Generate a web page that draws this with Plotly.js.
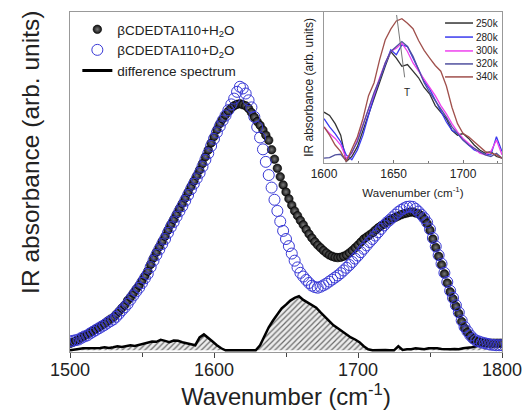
<!DOCTYPE html>
<html>
<head>
<meta charset="utf-8">
<script src="https://cdn.plot.ly/plotly-3.0.1.min.js"></script>
<style>html,body{margin:0;padding:0;background:#fff;}#chart{width:527px;height:418px;}</style>
</head>
<body>
<div id="chart"></div>
<script>
// Main spectra: sampled every 2 cm-1 from 1500 to 1800
const specStart = 1500, specStep = 2, specCount = 151;
const specWn = Array.from({length: specCount}, (_, i) => specStart + i * specStep);

const absH2O = [
2.0,2.4,2.8,3.2,3.8,4.3,4.7,5.2,5.8,6.3,
6.8,7.4,7.9,8.6,9.2,9.7,10.6,11.5,12.5,13.4,
14.7,15.7,16.9,18.1,19.2,20.6,22.0,23.4,25.4,27.3,
29.0,30.6,32.2,33.7,35.5,37.2,38.7,40.3,41.9,43.4,
45.0,46.7,48.4,50.0,51.6,53.3,55.2,57.2,59.2,61.3,
63.2,65.2,67.0,68.4,69.6,70.7,71.6,72.3,72.7,72.9,
72.6,72.3,71.5,70.3,68.9,67.6,66.5,65.1,63.6,62.1,
59.3,56.5,53.8,51.3,48.9,46.8,44.8,42.9,41.2,39.8,
38.4,37.1,35.7,34.4,33.2,32.1,31.1,30.3,29.5,28.8,
28.2,27.8,27.5,27.4,27.5,27.8,28.2,28.8,29.5,30.3,
31.1,32.0,32.9,33.5,34.1,34.7,35.5,36.2,36.8,37.3,
37.9,38.5,38.9,39.3,39.7,40.1,40.4,40.6,40.8,40.9,
40.6,40.4,39.8,38.8,37.5,35.5,32.9,30.4,27.8,25.3,
22.6,19.9,17.3,15.2,13.0,10.9,8.5,6.6,5.3,4.2,
3.3,2.8,2.5,2.3,2.2,2.1,2.1,2.1,2.1,2.1,
2.1];

const absD2O = [
2.6,2.8,3.0,3.2,3.7,4.1,4.4,5.0,5.5,6.0,
6.5,7.0,7.5,8.1,8.6,9.1,9.9,10.8,11.8,12.7,
13.7,15.0,16.2,17.4,18.5,19.9,21.3,22.6,24.6,26.5,
28.2,29.8,31.4,32.9,34.7,36.4,37.9,39.5,41.1,42.6,
44.2,45.9,47.6,49.2,50.8,52.4,54.3,56.3,58.2,60.4,
62.5,64.4,66.2,67.9,69.4,71.0,72.7,74.4,76.4,77.9,
77.4,75.9,73.9,71.8,69.0,66.0,62.9,59.4,55.7,51.8,
48.1,44.5,41.2,38.1,35.3,32.9,30.8,28.6,26.5,24.5,
22.9,21.8,20.8,19.9,19.1,18.7,18.5,18.8,19.2,19.7,
20.3,20.9,21.5,22.1,22.8,23.6,24.4,25.2,26.1,27.1,
28.0,29.0,30.0,31.0,32.0,32.9,33.9,34.9,35.9,36.9,
37.8,38.5,39.3,40.1,40.9,41.5,42.0,42.4,42.5,42.4,
41.8,41.0,40.1,39.1,37.8,35.8,33.2,30.7,28.1,25.6,
22.9,20.2,17.6,15.5,13.3,11.2,8.8,6.9,5.6,4.4,
3.5,2.9,2.6,2.3,2.1,1.9,1.7,1.6,1.5,1.5,
1.5];

// Difference spectrum: sampled every 3 cm-1
const diffStart = 1500, diffStep = 3, diffCount = 101;
const diffWn = Array.from({length: diffCount}, (_, i) => diffStart + i * diffStep);
const absDiff = [0,0.3,0.4,0.6,0.6,0.6,0.6,0.7,0.9,0.7,
0.9,1.2,1.0,1.3,1.5,1.3,1.6,1.8,2.1,2.6,
2.5,3.1,2.8,2.4,2.9,2.8,2.4,2.2,1.8,1.5,
3.8,4.7,3.5,2.6,1.5,0.6,0,0,0,0,
0,0,0,0,1.5,4.4,6.8,8.8,10.6,12.4,
13.5,14.7,15.5,16.0,14.9,14.1,13.2,12.6,11.2,10.0,
8.5,7.4,6.5,5.6,4.7,3.8,3.2,2.4,1.2,0.3,
0,0.1,0,0.1,0,0,1.2,0.1,0.3,0.3,
0.6,0.4,0.3,0.6,0.7,0.6,0.4,0.3,0.3,0.4,
0.3,0.6,0.7,0.9,1.2,1.5,1.5,1.8,1.8,2.1,
2.1];

// Inset: temperature series, every 4 cm-1 from 1600 to 1728
const insetWn = [1600,1604,1608,1612,1616,1620,1624,1628,1632,1636,1640,1644,1648,1652,1656,1660,1664,1668,1672,1676,1680,1684,1688,1692,1696,1700,1704,1708,1712,1716,1720,1724,1728];
const t250 = [33.0,30.8,25.3,17.6,0,3.3,9.9,20.9,31.9,41.8,52.7,63.7,73.6,69.2,63.7,64.8,60.4,56.0,49.5,45.1,37.4,33.0,28.6,20.9,17.6,18.7,15.4,11.0,7.7,5.5,6.6,3.3,2.2];
const t280 = [28.6,23.1,18.7,13.2,4.4,1.1,7.7,17.6,30.8,44.0,54.9,64.8,74.7,71.4,78.0,76.9,69.2,60.4,53.8,48.4,40.7,33.0,26.4,20.9,18.7,14.3,11.0,7.7,6.2,4.8,4.4,16.5,6.6];
const t300 = [23.1,18.7,15.4,11.0,2.2,5.5,14.3,24.2,35.2,45.1,56.0,65.9,73.6,75.8,79.1,73.6,65.9,60.4,54.9,49.5,44.0,37.4,31.9,25.3,19.8,15.4,12.1,8.8,5.5,4.4,6.6,14.3,4.4];
const t320 = [2.2,2.6,4.4,4.8,0.4,6.2,13.2,24.2,35.2,46.2,54.9,65.9,73.6,76.9,80.2,76.9,70.3,61.5,52.7,46.2,40.7,35.2,29.7,23.1,18.7,14.3,11.0,8.8,6.6,4.4,3.3,5.5,2.2];
const t340 = [23.1,17.6,11.0,6.6,0,7.7,16.5,28.6,44.0,52.7,68.1,81.3,88.5,94.0,95.5,92.5,88.8,80.9,74.3,69.2,64.2,60.4,50.5,36.3,25.3,18.7,16.5,13.2,9.9,6.6,5.5,4.4,2.2];

const tempLabels = ['250k','280k','300k','320k','340k'];
const tempColors = ['#333333','#3a3aee','#ee40ee','#50509e','#a0504c'];
const tempSeries = [t250, t280, t300, t320, t340];

const FONT = 'Liberation Sans, Arial, sans-serif';

const traces = [
  {x: diffWn, y: absDiff, mode: 'lines', showlegend: false,
   line: {color: '#000', width: 2.5}, fill: 'tozeroy', fillcolor: '#e6e6e6',
   fillpattern: {shape: '/', fgcolor: '#6a6a6a', bgcolor: '#ececec', size: 4, solidity: 0.3},
   xaxis: 'x', yaxis: 'y'},
  {x: specWn, y: absH2O, mode: 'markers', name: 'βCDEDTA110+H<sub>2</sub>O',
   marker: {symbol: 'circle', size: 8.5, color: '#111',
            gradient: {type: 'radial', color: '#7a7a7a'}, line: {color: '#000', width: 0.6}},
   xaxis: 'x', yaxis: 'y'},
  {x: specWn, y: absD2O, mode: 'markers', name: 'βCDEDTA110+D<sub>2</sub>O',
   marker: {symbol: 'circle-open', size: 11, color: '#3a3ad6', line: {width: 1}},
   xaxis: 'x', yaxis: 'y'},
  {x: [null], y: [null], mode: 'lines', name: 'difference spectrum',
   line: {color: '#000', width: 3}, xaxis: 'x', yaxis: 'y'}
];

tempSeries.forEach((s, i) => {
  traces.push({x: insetWn, y: s, mode: 'lines', showlegend: false, name: tempLabels[i],
    line: {color: tempColors[i], width: 1.3}, xaxis: 'x2', yaxis: 'y2'});
});

// inset legend (drawn as shapes + text)
const legRowsY = [0.927, 0.834, 0.742, 0.656, 0.570];
const shapes = [];
const annotations = [];
tempLabels.forEach((lab, i) => {
  shapes.push({type: 'line', xref: 'x2 domain', yref: 'y2 domain',
    x0: 0.68, x1: 0.837, y0: legRowsY[i], y1: legRowsY[i],
    line: {color: tempColors[i], width: 1.5}});
  annotations.push({xref: 'x2 domain', yref: 'y2 domain', x: 0.845, y: legRowsY[i],
    xanchor: 'left', yanchor: 'middle', showarrow: false, text: lab,
    font: {family: FONT, size: 10, color: '#222'}});
});
// T marker line in inset
shapes.push({type: 'line', xref: 'x2', yref: 'y2', x0: 1652.2, y0: 98, x1: 1658, y1: 56.3,
  line: {color: '#777', width: 1}});
annotations.push({xref: 'x2', yref: 'y2', x: 1659.5, y: 46, showarrow: false, text: 'T',
  font: {family: FONT, size: 10, color: '#222'}});
// main y title
annotations.push({xref: 'paper', yref: 'paper', x: -0.093, y: 0.588, showarrow: false,
  textangle: -90, xanchor: 'center', yanchor: 'middle',
  text: 'IR absorbance (arb. units)', font: {family: FONT, size: 24.5, color: '#222'}});

const layout = {
  width: 527, height: 418,
  margin: {l: 70, r: 25, t: 12, b: 66},
  paper_bgcolor: '#fff', plot_bgcolor: '#fff',
  font: {family: FONT, color: '#222'},
  showlegend: true,
  legend: {x: 0.017, y: 0.994, xanchor: 'left', yanchor: 'top', bgcolor: 'rgba(0,0,0,0)',
    font: {family: FONT, size: 13.5, color: '#222'}, tracegroupgap: 0, itemwidth: 30},
  xaxis: {domain: [0, 1], range: [1500, 1800], anchor: 'y',
    tickvals: [1500, 1600, 1700, 1800], ticks: 'outside', ticklen: 5, tickcolor: '#444',
    ticklabelstandoff: -4,
    minor: {dtick: 50, tick0: 1500, ticks: 'outside', ticklen: 4, tickcolor: '#444'},
    showline: true, mirror: true, linecolor: '#999', linewidth: 1, showgrid: false, zeroline: false,
    tickfont: {family: FONT, size: 18, color: '#222'},
    title: {text: 'Wavenumber (cm<sup>-1</sup>)', font: {family: FONT, size: 23.8, color: '#222'}, standoff: 9}},
  yaxis: {domain: [0, 1], range: [-0.5, 100], anchor: 'x', showticklabels: false, ticks: '',
    showline: true, mirror: true, linecolor: '#999', linewidth: 1, showgrid: false, zeroline: false},
  xaxis2: {domain: [0.588, 1], range: [1600, 1728], anchor: 'y2',
    tickvals: [1600, 1650, 1700], ticks: 'inside', ticklen: 3, tickcolor: '#777',
    minor: {tickvals: [1625, 1675, 1725], ticks: 'inside', ticklen: 2, tickcolor: '#777'},
    showline: true, mirror: false, linecolor: '#999', linewidth: 1, showgrid: false, zeroline: false,
    tickfont: {family: FONT, size: 12, color: '#222'},
    title: {text: 'Wavenumber (cm<sup>-1</sup>)', font: {family: FONT, size: 11.5, color: '#222'}, standoff: 8}},
  yaxis2: {domain: [0.556, 1], range: [-1, 100], anchor: 'x2', showticklabels: false, ticks: '',
    showline: true, mirror: false, linecolor: '#999', linewidth: 1, showgrid: false, zeroline: false,
    title: {text: 'IR absorbance (arb. units)', font: {family: FONT, size: 12, color: '#222'}, standoff: 6}},
  shapes: shapes,
  annotations: annotations
};

Plotly.newPlot('chart', traces, layout, {displayModeBar: false, staticPlot: true});
</script>
</body>
</html>
